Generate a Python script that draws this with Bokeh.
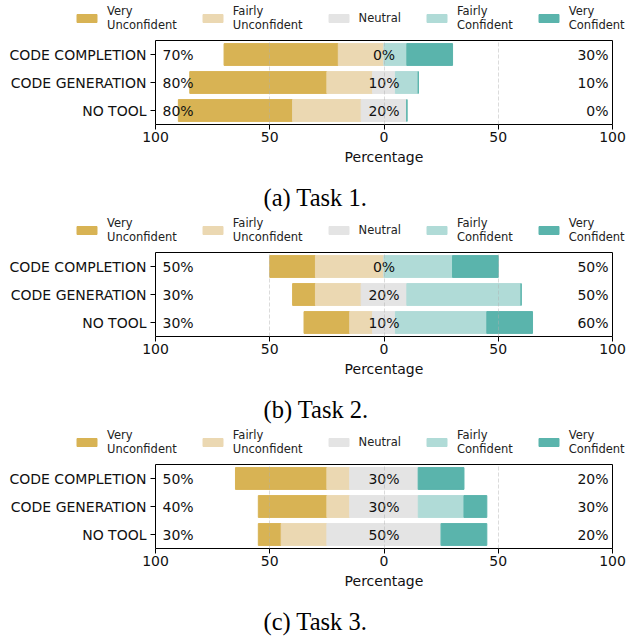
import numpy as np
from bokeh.plotting import figure
from bokeh.layouts import column, row
from bokeh.models import (ColumnDataSource, Range1d, FactorRange, FixedTicker,
                          Legend, LegendItem, Title)
from bokeh.core.properties import value
from bokeh.embed import file_html
from bokeh.resources import INLINE

categories = ["CODE COMPLETION", "CODE GENERATION", "NO TOOL"]
levels = ["Very\nUnconfident", "Fairly\nUnconfident", "Neutral", "Fairly\nConfident", "Very\nConfident"]
colors = ["#d8b354", "#ebd8b2", "#e4e4e4", "#b0dbd7", "#5ab4ac"]

# percentages per category: [VU, FU, N, FC, VC]
task1 = [[50, 20, 0, 10, 20], [60, 20, 10, 10, 0], [50, 30, 20, 0, 0]]
task2 = [[20, 30, 0, 30, 20], [10, 20, 20, 50, 0], [20, 10, 10, 40, 20]]
task3 = [[40, 10, 30, 0, 20], [30, 10, 30, 20, 10], [10, 20, 50, 0, 20]]
tasks = [task1, task2, task3]
captions = ["(a) Task 1.", "(b) Task 2.", "(c) Task 3."]
x_ticks = [-100, -50, 0, 50, 100]
tick_labels = ["100", "50", "0", "50", "100"]

FONT = "DejaVu Sans"
FS = "14px"
W = 627
LEG_H, PLOT_H, CAP_H = 34, 135, 43


def bare_figure(h):
    f = figure(width=W, height=h, output_backend="svg", toolbar_location=None,
               x_range=Range1d(0, 1), y_range=Range1d(0, 1),
               min_border=0, outline_line_color=None)
    f.axis.visible = False
    f.grid.visible = False
    return f


rows = []
for data, cap in zip(tasks, captions):
    d = np.array(data, dtype=float)
    start = -(d[:, 0] + d[:, 1] + d[:, 2] / 2.0)
    edges = np.column_stack([start, start[:, None] + np.cumsum(d, axis=1)])

    # legend strip
    lf = bare_figure(LEG_H)
    litems = []
    for k in range(5):
        r0 = lf.hbar(y=[-5], left=[0], right=[1], height=1, fill_color=colors[k],
                     line_color=colors[k])
        litems.append(LegendItem(label=levels[k], renderers=[r0]))
    lf.add_layout(Legend(items=litems, orientation="horizontal", location=(74, 2.5),
                         glyph_width=25, glyph_height=10, label_standoff=8, spacing=23,
                         padding=0, margin=0, border_line_color=None,
                         background_fill_alpha=0, label_text_font=FONT,
                         label_text_font_size="11.5px", label_text_color="#222222"),
                  "center")

    # main chart
    p = figure(width=W, height=PLOT_H, output_backend="svg", toolbar_location=None,
               x_range=Range1d(-100, 100), y_range=FactorRange(*categories[::-1]),
               min_border_left=155, min_border_right=15, min_border_top=6,
               min_border_bottom=PLOT_H - 6 - 84)
    p.outline_line_color = "black"
    p.outline_line_width = 1
    for k in range(5):
        src = ColumnDataSource(dict(y=categories, left=edges[:, k], right=edges[:, k + 1]))
        p.hbar(y="y", left="left", right="right", height=0.78, source=src,
               fill_color=colors[k], line_color=colors[k], line_width=1)
    left_txt = ["%d%%" % v for v in d[:, 0] + d[:, 1]]
    right_txt = ["%d%%" % v for v in d[:, 3] + d[:, 4]]
    mid_txt = ["%d%%" % v for v in d[:, 2]]
    tsrc = ColumnDataSource(dict(y=categories, l=left_txt, r=right_txt, m=mid_txt,
                                 xl=[-100] * 3, xr=[100] * 3, xm=[0] * 3))
    common = dict(y="y", source=tsrc, text_font=value(FONT), text_font_size=FS,
                  text_baseline="middle", text_color="#111111")
    p.text(x="xl", text="l", text_align="left", x_offset=7, **common)
    p.text(x="xr", text="r", text_align="right", x_offset=-4, **common)
    p.text(x="xm", text="m", text_align="center", **common)

    p.xaxis.ticker = FixedTicker(ticks=x_ticks)
    p.xaxis.major_label_overrides = {t: s for t, s in zip(x_ticks, tick_labels)}
    p.xaxis.axis_label = "Percentage"
    p.xaxis.axis_label_text_font = FONT
    p.xaxis.axis_label_text_font_style = "normal"
    p.xaxis.axis_label_text_font_size = FS
    p.xaxis.axis_label_text_color = "#111111"
    p.xaxis.axis_label_standoff = 4
    p.xaxis.major_label_standoff = 2
    p.xaxis.minor_tick_line_color = None
    for ax in (p.xaxis, p.yaxis):
        ax.major_label_text_font = FONT
        ax.major_label_text_font_size = FS
        ax.major_label_text_color = "#111111"
        ax.major_tick_line_color = "black"
        ax.major_tick_out = 5
        ax.major_tick_in = 0
        ax.axis_line_color = None
    p.yaxis.major_label_standoff = 4
    p.ygrid.grid_line_color = None
    p.xgrid.ticker = FixedTicker(ticks=[-50, 0, 50])
    p.xgrid.grid_line_color = "#b0b0b0"
    p.xgrid.grid_line_alpha = 0.45
    p.xgrid.grid_line_dash = "4 2"
    p.xgrid.level = "overlay"

    # caption strip
    cf = bare_figure(CAP_H)
    cf.add_layout(Title(text=cap, align="left", offset=263, vertical_align="top",
                        text_font="Liberation Serif", text_font_size="24.5px",
                        text_font_style="normal", text_color="black", standoff=0),
                  "below")

    rows.extend([row(lf), row(p), row(cf)])

layout = column(*rows, spacing=0)
open("out.html", "w").write(file_html(layout, INLINE))
